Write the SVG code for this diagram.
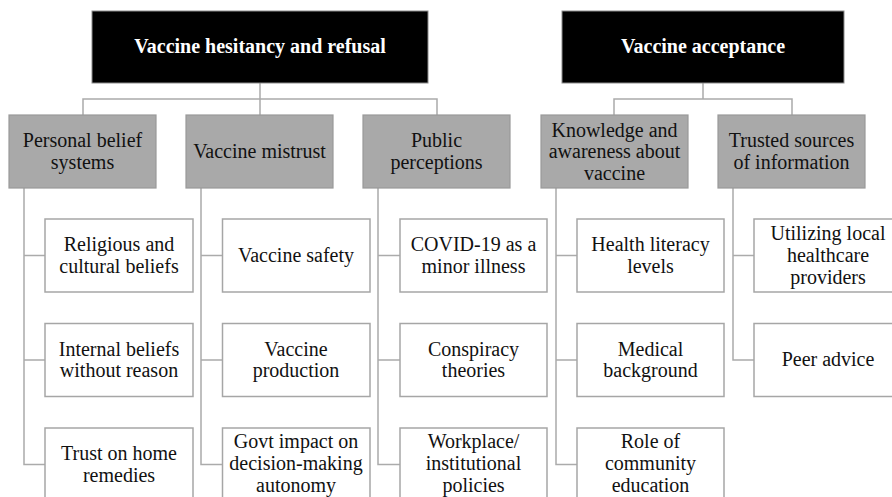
<svg xmlns="http://www.w3.org/2000/svg" width="892" height="497" viewBox="0 0 892 497">
  <style>
    text { text-anchor: middle; }
    .head rect { fill: #000000; stroke: #8c8c8c; stroke-width: 1; }
    .head text { fill: #ffffff; font-weight: bold; }
    .cat rect { fill: #a9a9a9; stroke: #9a9a9a; stroke-width: 1.2; }
    .item rect { fill: #ffffff; stroke: #a6a6a6; stroke-width: 1.5; }
    .cat text, .item text { fill: #111111; }
    .links path { fill: none; stroke: #ababab; stroke-width: 1.5; }
  </style>

  <rect width="892" height="497" fill="#ffffff"/>

  <!-- connectors -->
  <g class="links" id="connectors">
    <!-- hesitancy tree -->
    <path d="M260 83 V99 M83 115 V99 H437 V115 M260 99 V115"/>
    <!-- acceptance tree -->
    <path d="M703 83 V99 M614 115 V99 H792 V115"/>
    <!-- spines to sub-items -->
    <path d="M24 188 V464.5 H45 M24 255.5 H45 M24 360 H45"/>
    <path d="M201 188 V464.5 H222.5 M201 255.5 H222.5 M201 360 H222.5"/>
    <path d="M378 188 V464.5 H400 M378 255.5 H400 M378 360 H400"/>
    <path d="M556 188 V464.5 H577 M556 255.5 H577 M556 360 H577"/>
    <path d="M733 188 V360 H754 M733 255.5 H754"/>
  </g>

  <g id="nodes" font-family="Liberation Serif, serif" font-size="20">
  <!-- top headers -->
  <g class="head" id="hesitancy">
    <rect x="92" y="11" width="336" height="72"/>
    <text x="260" y="53">Vaccine hesitancy and refusal</text>
  </g>
  <g class="head" id="acceptance">
    <rect x="562" y="11" width="282" height="72"/>
    <text x="703" y="53">Vaccine acceptance</text>
  </g>

  <!-- categories -->
  <g class="cat" id="personal-belief">
    <rect x="9" y="115" width="147" height="73"/>
    <text x="82.5" y="147">Personal belief</text>
    <text x="82.5" y="168.5">systems</text>
  </g>
  <g class="cat" id="mistrust">
    <rect x="186" y="115" width="147" height="73"/>
    <text x="259.5" y="158">Vaccine mistrust</text>
  </g>
  <g class="cat" id="public-perceptions">
    <rect x="363" y="115" width="147" height="73"/>
    <text x="436.5" y="147">Public</text>
    <text x="436.5" y="168.5">perceptions</text>
  </g>
  <g class="cat" id="knowledge">
    <rect x="541" y="115" width="147" height="73"/>
    <text x="614.5" y="136.5">Knowledge and</text>
    <text x="614.5" y="158">awareness about</text>
    <text x="614.5" y="179.5">vaccine</text>
  </g>
  <g class="cat" id="trusted-sources">
    <rect x="718" y="115" width="147" height="73"/>
    <text x="791.5" y="147">Trusted sources</text>
    <text x="791.5" y="168.5">of information</text>
  </g>

  <!-- column 1 -->
  <g class="item" id="religious">
    <rect x="45" y="219" width="148" height="73"/>
    <text x="119" y="251">Religious and</text>
    <text x="119" y="272.5">cultural beliefs</text>
  </g>
  <g class="item" id="internal-beliefs">
    <rect x="45" y="323.5" width="148" height="73"/>
    <text x="119" y="355.5">Internal beliefs</text>
    <text x="119" y="377">without reason</text>
  </g>
  <g class="item" id="home-remedies">
    <rect x="45" y="428" width="148" height="73"/>
    <text x="119" y="460">Trust on home</text>
    <text x="119" y="481.5">remedies</text>
  </g>

  <!-- column 2 -->
  <g class="item" id="vaccine-safety">
    <rect x="222.5" y="219" width="147.5" height="73"/>
    <text x="296" y="262">Vaccine safety</text>
  </g>
  <g class="item" id="vaccine-production">
    <rect x="222.5" y="323.5" width="147.5" height="73"/>
    <text x="296" y="355.5">Vaccine</text>
    <text x="296" y="377">production</text>
  </g>
  <g class="item" id="govt-impact">
    <rect x="222.5" y="428" width="147.5" height="73"/>
    <text x="296" y="448">Govt impact on</text>
    <text x="296" y="470">decision-making</text>
    <text x="296" y="492">autonomy</text>
  </g>

  <!-- column 3 -->
  <g class="item" id="minor-illness">
    <rect x="400" y="219" width="147" height="73"/>
    <text x="473.5" y="251">COVID-19 as a</text>
    <text x="473.5" y="272.5">minor illness</text>
  </g>
  <g class="item" id="conspiracy">
    <rect x="400" y="323.5" width="147" height="73"/>
    <text x="473.5" y="355.5">Conspiracy</text>
    <text x="473.5" y="377">theories</text>
  </g>
  <g class="item" id="workplace">
    <rect x="400" y="428" width="147" height="73"/>
    <text x="473.5" y="448">Workplace/</text>
    <text x="473.5" y="470">institutional</text>
    <text x="473.5" y="492">policies</text>
  </g>

  <!-- column 4 -->
  <g class="item" id="health-literacy">
    <rect x="577" y="219" width="147" height="73"/>
    <text x="650.5" y="251">Health literacy</text>
    <text x="650.5" y="272.5">levels</text>
  </g>
  <g class="item" id="medical-background">
    <rect x="577" y="323.5" width="147" height="73"/>
    <text x="650.5" y="355.5">Medical</text>
    <text x="650.5" y="377">background</text>
  </g>
  <g class="item" id="community-education">
    <rect x="577" y="428" width="147" height="73"/>
    <text x="650.5" y="448">Role of</text>
    <text x="650.5" y="470">community</text>
    <text x="650.5" y="492">education</text>
  </g>

  <!-- column 5 -->
  <g class="item" id="local-providers">
    <rect x="754" y="219" width="148" height="73"/>
    <text x="828" y="240">Utilizing local</text>
    <text x="828" y="262">healthcare</text>
    <text x="828" y="284">providers</text>
  </g>
  <g class="item" id="peer-advice">
    <rect x="754" y="323.5" width="148" height="73"/>
    <text x="828" y="366">Peer advice</text>
  </g>
  </g>
</svg>
